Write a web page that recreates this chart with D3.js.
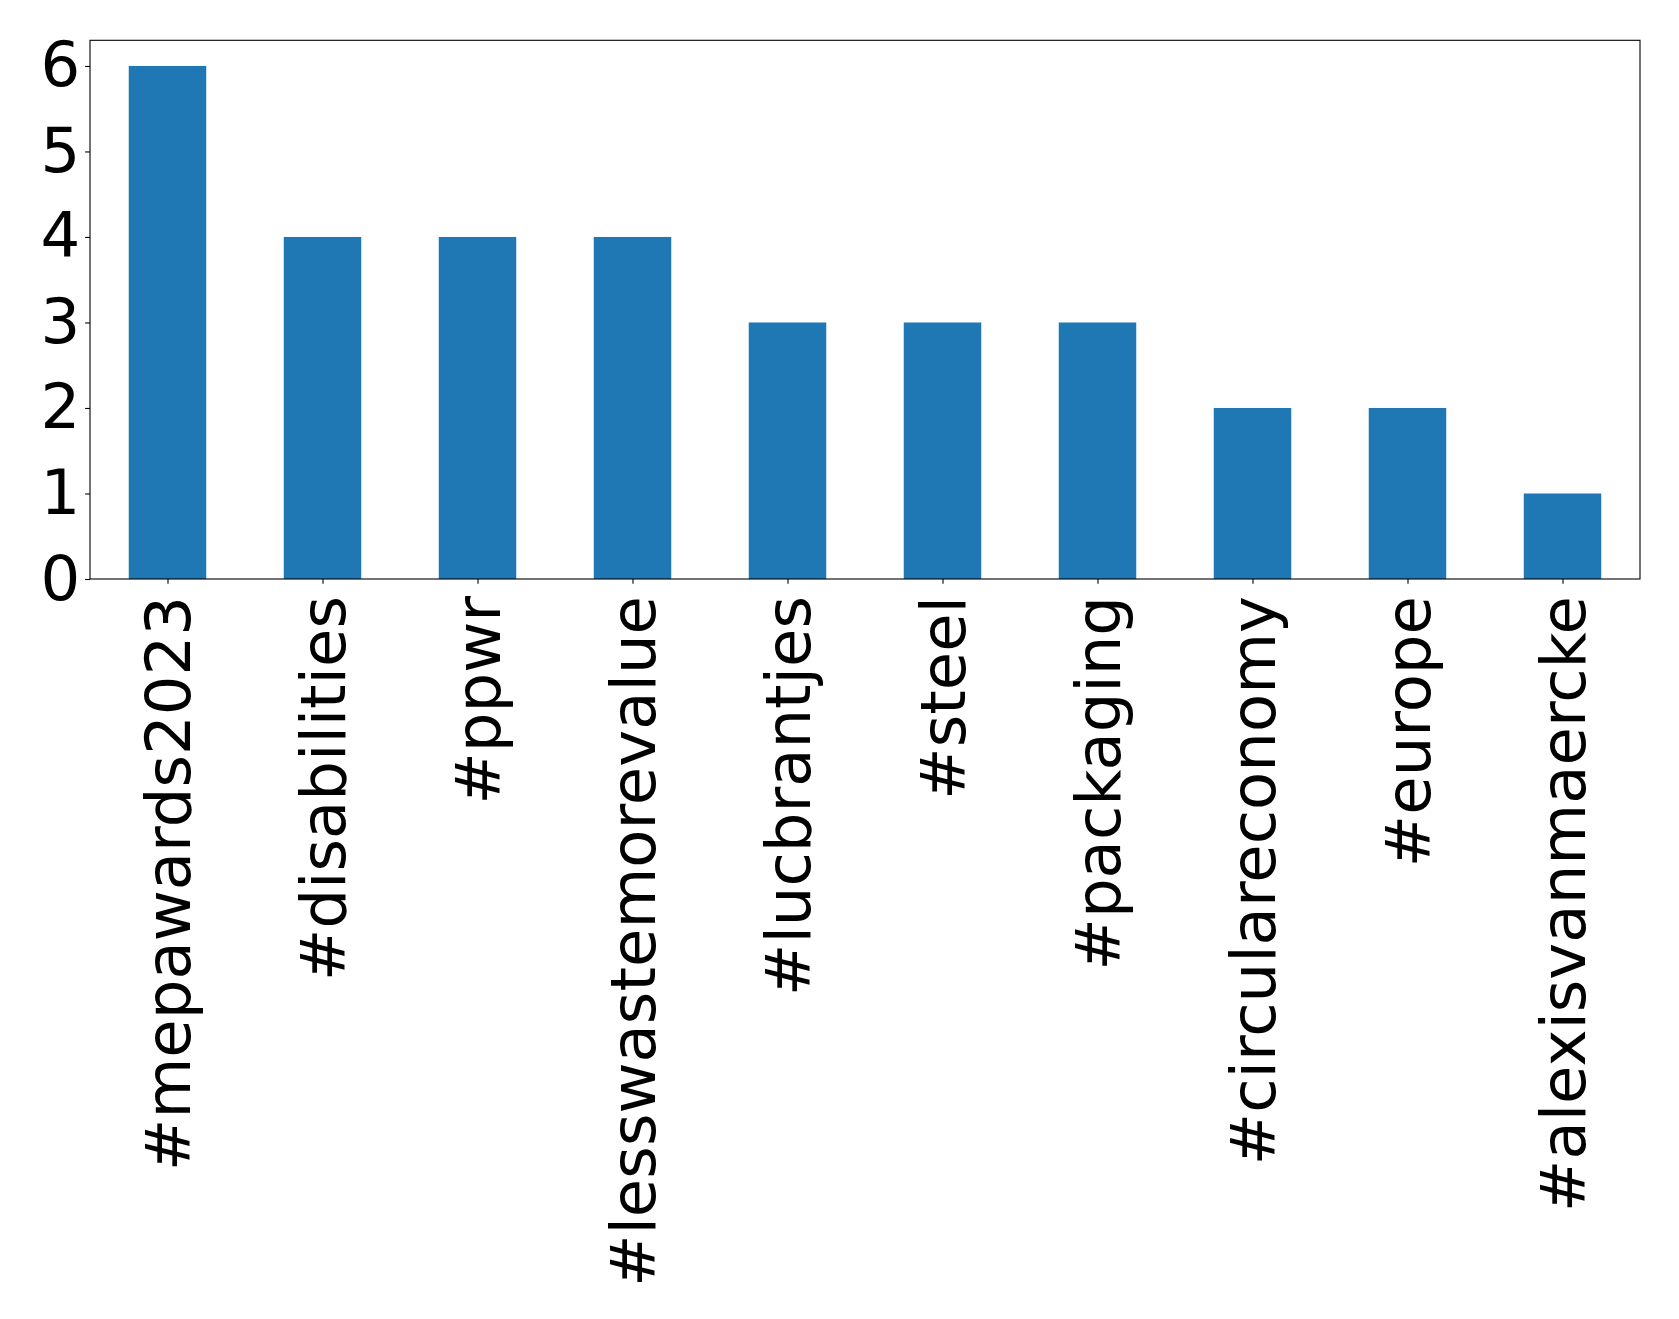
<!DOCTYPE html>
<html><head><meta charset="utf-8">
<script src="https://cdn.jsdelivr.net/npm/d3@7"></script>
<style>body{margin:0;background:#fff}svg{display:block}</style>
</head><body>
<script>
const categories = ["#mepawards2023","#disabilities","#ppwr","#lesswastemorevalue","#lucbrantjes","#steel","#packaging","#circulareconomy","#europe","#alexisvanmaercke"];
const values = [6,4,4,4,3,3,3,2,2,1];
const yTicks = [0,1,2,3,4,5,6];

const W = 1679, H = 1319;
const m = {left: 90, top: 40.3, right: 1640, bottom: 579};
const fs = 62.5;

const svg = d3.select("body").append("svg").attr("width", W).attr("height", H);

const x = d3.scaleLinear().domain([-0.5, categories.length - 0.5]).range([m.left, m.right]);
const y = d3.scaleLinear().domain([0, 6.3]).range([m.bottom, m.top]);

svg.selectAll("rect.bar").data(values).join("rect")
  .attr("class","bar")
  .attr("x", (d,i) => x(i - 0.25))
  .attr("width", x(0.25) - x(-0.25))
  .attr("y", d => y(d))
  .attr("height", d => y(0) - y(d))
  .attr("fill", "#1f77b4");

const yAxis = d3.axisLeft(y).tickValues(yTicks).tickFormat(d3.format("d")).tickSize(4.86).tickPadding(4.86);
const gy = svg.append("g").attr("transform", `translate(${m.left},0)`).call(yAxis);
gy.select(".domain").remove();
gy.selectAll("text").attr("font-family","DejaVu Sans").attr("font-size", fs).attr("fill","#000");
gy.selectAll("line").attr("stroke","#000").attr("stroke-width",1.1);

const xAxis = d3.axisBottom(x).tickValues(d3.range(categories.length)).tickFormat(i => categories[i]).tickSize(4.86).tickPadding(0);
const gx = svg.append("g").attr("transform", `translate(0,${m.bottom})`).call(xAxis);
gx.select(".domain").remove();
gx.selectAll("line").attr("stroke","#000").attr("stroke-width",1.1);
gx.selectAll("text")
  .attr("font-family","DejaVu Sans").attr("font-size", fs).attr("fill","#000")
  .attr("text-anchor","end")
  .attr("dy","0.35em")
  .attr("transform","translate(0,17) rotate(-90)")
  .attr("x",0).attr("y",0);

svg.append("rect").attr("x", m.left).attr("y", m.top)
  .attr("width", m.right - m.left).attr("height", m.bottom - m.top)
  .attr("fill","none").attr("stroke","#000").attr("stroke-width",1.1);
</script>
</body></html>
